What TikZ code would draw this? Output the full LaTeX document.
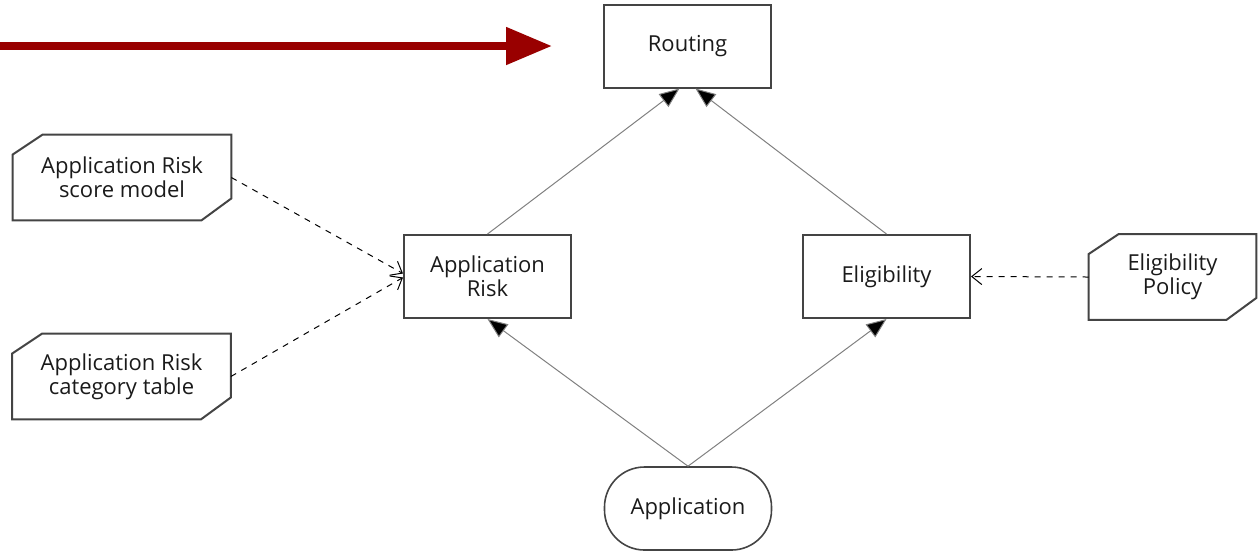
\documentclass[tikz,border=0pt]{standalone}
\usepackage{fontspec}
\setmainfont{Open Sans}
\usetikzlibrary{positioning,calc,arrows.meta}
\definecolor{drgline}{HTML}{444444}
\definecolor{drgtext}{HTML}{1a1a1a}
\definecolor{pointer}{HTML}{990000}
\tikzstyle{decision} = [draw=drgline, line width=1pt, minimum width=83.5pt, minimum height=41.5pt, text=drgtext]
\tikzstyle{inputdata} = [decision, line width=0.8pt, rounded corners=20pt]
\tikzstyle{knowledge} = [minimum width=109pt, minimum height=42.5pt, text=drgtext]
\tikzstyle{info} = [draw=gray, line width=0.5pt, -{Triangle[length=10pt,width=8pt,fill=black]}]
\tikzstyle{authority} = [draw=black, line width=0.5pt, dashed, -{Straight Barb[length=5pt,width=8pt]}]

\begin{document}
\begin{tikzpicture}[x=0.5pt, y=-0.5pt]
\tikzstyle{every node}=[align=center, inner sep=1pt, font=\fontsize{11}{10.8}\selectfont]
	\useasboundingbox (0,0) rectangle (1258,554);
	\node[decision] (routing) at (687.5, 46) {Routing};
	\node[decision] (apprisk) at (487.5, 276.5) {Application\\Risk};
	\node[decision] (elig) at (886.5, 276.5) {Eligibility};
	\node[inputdata] (app) at (688, 508.5) {Application};
	\node[knowledge] (scoremodel) at (122, 177.5) {Application Risk\\score model};
	\node[knowledge] (cattable) at (121.5, 376.5) {Application Risk\\category table};
	\node[knowledge, minimum width=83.5pt] (policy) at (1172.5, 277) {Eligibility\\Policy};

	% knowledge source outlines
	\foreach \ks in {scoremodel, cattable, policy}
		\draw[drgline, line width=1pt] ([xshift=15pt]\ks.north west) -- (\ks.north east)
			-- ([yshift=11pt]\ks.south east) -- ([xshift=-15pt]\ks.south east)
			-- (\ks.south west) -- ([yshift=-10pt]\ks.north west) -- cycle;

	\draw[info]  (apprisk.north) to ([xshift=-4pt]routing.south);
	\draw[info]  (elig.north) to ([xshift=4pt]routing.south);
	\draw[info]  (app.north) to (apprisk.south);
	\draw[info]  (app.north) to (elig.south);
	\draw[authority]  (scoremodel.east) to ([yshift=1.5pt]apprisk.west);
	\draw[authority]  (cattable.east) to ([yshift=-0.5pt]apprisk.west);
	\draw[authority]  (policy.west) to (elig.east);

	\coordinate (pstart) at (0, 46);
	\coordinate (pend) at (552, 46);
	\draw[pointer, line width=4pt, -{Triangle[length=23pt,width=18pt]}] (pstart) -- (pend);
\end{tikzpicture}
\end{document}
